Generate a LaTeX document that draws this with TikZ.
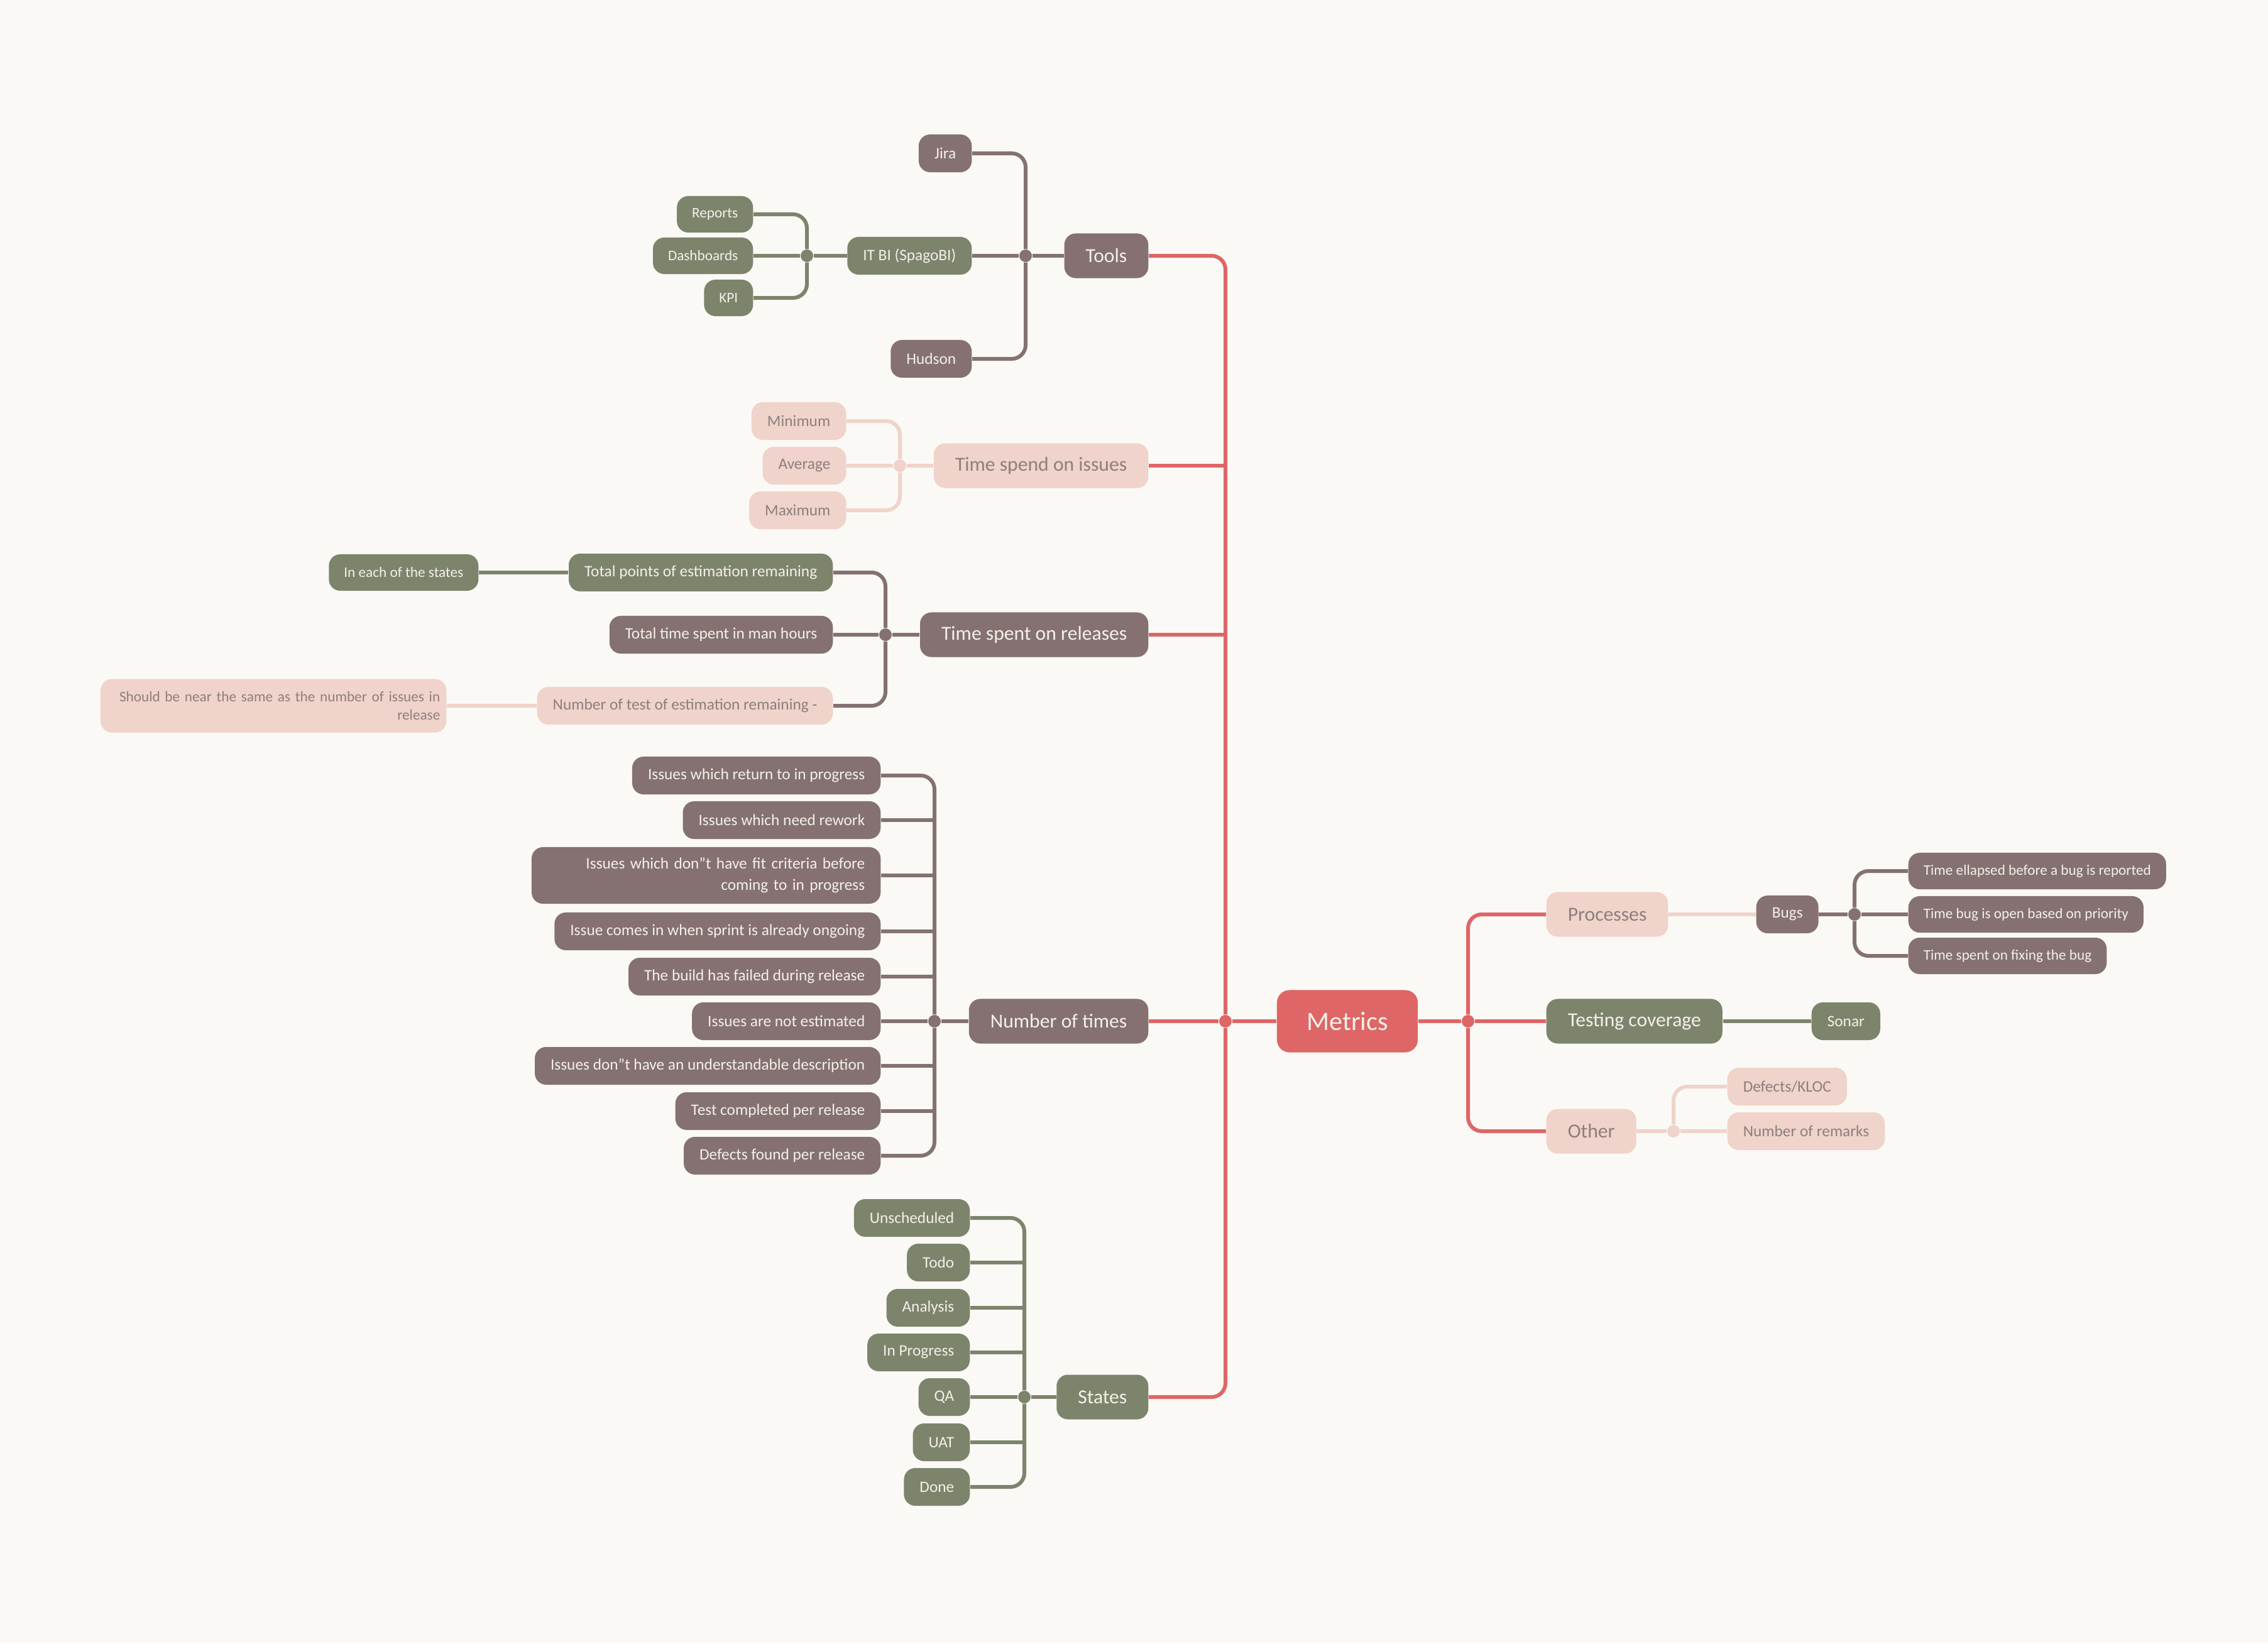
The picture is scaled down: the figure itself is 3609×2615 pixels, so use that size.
\documentclass[tikz,border=0pt]{standalone}
\usepackage{fontspec}
\setmainfont{Carlito}
\usepackage{xcolor}
\usepackage{tikz}
\usetikzlibrary{backgrounds}
\setlength{\parindent}{0pt}
\definecolor{cBack}{HTML}{FAF9F5}
\definecolor{cRed}{HTML}{DE6666}
\definecolor{cMauve}{HTML}{857171}
\definecolor{cSage}{HTML}{7D846C}
\definecolor{cPink}{HTML}{F0D3CA}
\definecolor{cPinkTxt}{HTML}{8C807C}
\definecolor{cLight}{HTML}{F3F0E9}
\tikzset{
  boxv/.style={rounded corners=0.18cm, inner ysep=0pt, text=cLight},
  rootv/.style={boxv, fill=cRed, minimum width=2.24cm, minimum height=0.99cm, rounded corners=0.2cm, font=\fontsize{12}{14}\selectfont},
  topv/.style={boxv, inner xsep=0.34cm, minimum height=0.71cm, font=\fontsize{9}{11}\selectfont},
  midv/.style={boxv, inner xsep=0.25cm, minimum height=0.6cm, font=\fontsize{7.2}{9.8}\selectfont},
  leafv/.style={boxv, inner xsep=0.24cm, minimum height=0.58cm, font=\fontsize{6.6}{8.5}\selectfont},
  mauvev/.style={fill=cMauve},
  sagev/.style={fill=cSage},
  pinkv/.style={fill=cPink, text=cPinkTxt},
  dotj/.style={circle, inner sep=0pt, minimum size=0.2cm},
  link/.style={line width=0.06cm},
  every picture/.style={line cap=round, line join=round}
}

\begin{document}
\begin{tikzpicture}[x=0.01cm, y=-0.01cm]
  \useasboundingbox (0,0) rectangle (3609,2615);

  % Root
  \node[rootv] (metrics) at (2144,1625) {Metrics};
  \node[dotj, fill=cRed] (jleft) at (1950,1625) {};
  \node[dotj, fill=cRed] (jright) at (2336,1625) {};

  % Left branches
  \node[topv, mauvev, anchor=east] (tools) at (1828,407) {Tools};
  \node[topv, pinkv, anchor=east] (issues) at (1828,741) {Time spend on issues};
  \node[topv, mauvev, anchor=east] (releases) at (1828,1010) {Time spent on releases};
  \node[topv, mauvev, anchor=east] (times) at (1828,1625) {Number of times};
  \node[topv, sagev, anchor=east] (states) at (1828,2223) {States};

  % Right branches
  \node[topv, pinkv, anchor=west] (procs) at (2460,1455) {Processes};
  \node[topv, sagev, anchor=west] (coverage) at (2460,1625) {Testing coverage};
  \node[topv, pinkv, anchor=west] (other) at (2460,1800) {Other};

  % Tools
  \node[dotj, fill=cMauve] (jtools) at (1632,407) {};
  \node[midv, mauvev, anchor=east] (jira) at (1547,244) {Jira};
  \node[midv, sagev, anchor=east] (itbi) at (1547,407) {IT BI (SpagoBI)};
  \node[midv, mauvev, anchor=east] (hudson) at (1547,571) {Hudson};
  \node[dotj, fill=cSage] (jitbi) at (1284,407) {};
  \node[leafv, sagev, anchor=east] (reports) at (1199,341) {Reports};
  \node[leafv, sagev, anchor=east] (dashes) at (1199,407) {Dashboards};
  \node[leafv, sagev, anchor=east] (kpi) at (1199,474) {KPI};

  % Time spend on issues
  \node[dotj, fill=cPink] (jissues) at (1432,741) {};
  \node[midv, pinkv, anchor=east] (minv) at (1347,670) {Minimum};
  \node[midv, pinkv, anchor=east] (avgv) at (1347,741) {Average};
  \node[midv, pinkv, anchor=east] (maxv) at (1347,812) {Maximum};

  % Time spent on releases
  \node[dotj, fill=cMauve] (jrel) at (1409,1010) {};
  \node[midv, sagev, anchor=east] (points) at (1326,911) {Total points of estimation remaining};
  \node[midv, mauvev, anchor=east] (hours) at (1326,1010) {Total time spent in man hours};
  \node[midv, pinkv, anchor=east] (tests) at (1326,1123) {Number of test of estimation remaining -};
  \node[leafv, sagev, anchor=east] (each) at (762,911) {In each of the states};
  \node[leafv, pinkv, anchor=east, text width=5.3cm, inner xsep=0.1cm, align=right, minimum height=0.85cm] (near) at (711,1123)
    {Should be near the same as the number of issues in\\release};

  % Number of times
  \node[dotj, fill=cMauve] (jtimes) at (1487,1625) {};
  \node[midv, mauvev, anchor=east] (t1) at (1402,1234) {Issues which return to in progress};
  \node[midv, mauvev, anchor=east] (t2) at (1402,1305) {Issues which need rework};
  \node[midv, mauvev, anchor=east, text width=5.05cm, align=right, minimum height=0.9cm] (t3) at (1402,1393)
    {Issues which don"t have fit criteria before\\coming to in progress};
  \node[midv, mauvev, anchor=east] (t4) at (1402,1482) {Issue comes in when sprint is already ongoing};
  \node[midv, mauvev, anchor=east] (t5) at (1402,1554) {The build has failed during release};
  \node[midv, mauvev, anchor=east] (t6) at (1402,1625) {Issues are not estimated};
  \node[midv, mauvev, anchor=east] (t7) at (1402,1696) {Issues don"t have an understandable description};
  \node[midv, mauvev, anchor=east] (t8) at (1402,1768) {Test completed per release};
  \node[midv, mauvev, anchor=east] (t9) at (1402,1839) {Defects found per release};

  % States
  \node[dotj, fill=cSage] (jstates) at (1630,2223) {};
  \node[midv, sagev, anchor=east] (s1) at (1544,1938) {Unscheduled};
  \node[midv, sagev, anchor=east] (s2) at (1544,2009) {Todo};
  \node[midv, sagev, anchor=east] (s3) at (1544,2081) {Analysis};
  \node[midv, sagev, anchor=east] (s4) at (1544,2152) {In Progress};
  \node[midv, sagev, anchor=east] (s5) at (1544,2223) {QA};
  \node[midv, sagev, anchor=east] (s6) at (1544,2295) {UAT};
  \node[midv, sagev, anchor=east] (s7) at (1544,2366) {Done};

  % Processes
  \node[midv, mauvev, anchor=west] (bugs) at (2794,1455) {Bugs};
  \node[dotj, fill=cMauve] (jbugs) at (2951,1455) {};
  \node[leafv, mauvev, anchor=west] (b1) at (3036,1386) {Time ellapsed before a bug is reported};
  \node[leafv, mauvev, anchor=west] (b2) at (3036,1455) {Time bug is open based on priority};
  \node[leafv, mauvev, anchor=west] (b3) at (3036,1521) {Time spent on fixing the bug};

  % Testing coverage
  \node[midv, sagev, anchor=west] (sonar) at (2882,1625) {Sonar};

  % Other
  \node[dotj, fill=cPink] (jother) at (2663,1800) {};
  \node[midv, pinkv, anchor=west] (kloc) at (2748,1729) {Defects/KLOC};
  \node[midv, pinkv, anchor=west] (remarks) at (2748,1800) {Number of remarks};

  \begin{scope}[on background layer]
    \fill[cBack] (0,0) rectangle (3609,2615);
    % Metrics
    \draw[link, cRed] (metrics.west) -- (jleft) -- (times.east);
    \draw[link, cRed, rounded corners=0.22cm] (jleft) |- (tools.east);
    \draw[link, cRed, rounded corners=0.22cm] (jleft) |- (states.east);
    \draw[link, cRed] (issues.east) -- (issues.east -| jleft);
    \draw[link, cRed] (releases.east) -- (releases.east -| jleft);
    \draw[link, cRed] (metrics.east) -- (jright) -- (coverage.west);
    \draw[link, cRed, rounded corners=0.22cm] (jright) |- (procs.west);
    \draw[link, cRed, rounded corners=0.22cm] (jright) |- (other.west);
    % Tools
    \draw[link, cMauve] (tools.west) -- (jtools) -- (itbi.east);
    \draw[link, cMauve, rounded corners=0.22cm] (jtools) |- (jira.east);
    \draw[link, cMauve, rounded corners=0.22cm] (jtools) |- (hudson.east);
    \draw[link, cSage] (itbi.west) -- (jitbi) -- (dashes.east);
    \draw[link, cSage, rounded corners=0.22cm] (jitbi) |- (reports.east);
    \draw[link, cSage, rounded corners=0.22cm] (jitbi) |- (kpi.east);
    % Time spend on issues
    \draw[link, cPink] (issues.west) -- (jissues) -- (avgv.east);
    \draw[link, cPink, rounded corners=0.22cm] (jissues) |- (minv.east);
    \draw[link, cPink, rounded corners=0.22cm] (jissues) |- (maxv.east);
    % Time spent on releases
    \draw[link, cMauve] (releases.west) -- (jrel) -- (hours.east);
    \draw[link, cMauve, rounded corners=0.22cm] (jrel) |- (points.east);
    \draw[link, cMauve, rounded corners=0.22cm] (jrel) |- (tests.east);
    \draw[link, cSage] (points.west) -- (each.east);
    \draw[link, cPink] (tests.west) -- (near.east);
    % Number of times
    \draw[link, cMauve] (times.west) -- (jtimes) -- (t6.east);
    \draw[link, cMauve, rounded corners=0.22cm] (jtimes) |- (t1.east);
    \draw[link, cMauve, rounded corners=0.22cm] (jtimes) |- (t9.east);
    \draw[link, cMauve] (t2.east) -- (t2.east -| jtimes);
    \draw[link, cMauve] (t3.east) -- (t3.east -| jtimes);
    \draw[link, cMauve] (t4.east) -- (t4.east -| jtimes);
    \draw[link, cMauve] (t5.east) -- (t5.east -| jtimes);
    \draw[link, cMauve] (t7.east) -- (t7.east -| jtimes);
    \draw[link, cMauve] (t8.east) -- (t8.east -| jtimes);
    % States
    \draw[link, cSage] (states.west) -- (jstates) -- (s5.east);
    \draw[link, cSage, rounded corners=0.22cm] (jstates) |- (s1.east);
    \draw[link, cSage, rounded corners=0.22cm] (jstates) |- (s7.east);
    \draw[link, cSage] (s2.east) -- (s2.east -| jstates);
    \draw[link, cSage] (s3.east) -- (s3.east -| jstates);
    \draw[link, cSage] (s4.east) -- (s4.east -| jstates);
    \draw[link, cSage] (s6.east) -- (s6.east -| jstates);
    % Processes
    \draw[link, cPink] (procs.east) -- (bugs.west);
    \draw[link, cMauve] (bugs.east) -- (jbugs) -- (b2.west);
    \draw[link, cMauve, rounded corners=0.22cm] (jbugs) |- (b1.west);
    \draw[link, cMauve, rounded corners=0.22cm] (jbugs) |- (b3.west);
    % Testing coverage
    \draw[link, cSage] (coverage.east) -- (sonar.west);
    % Other
    \draw[link, cPink] (other.east) -- (jother) -- (remarks.west);
    \draw[link, cPink, rounded corners=0.22cm] (jother) |- (kloc.west);
  \end{scope}
\end{tikzpicture}
\end{document}
